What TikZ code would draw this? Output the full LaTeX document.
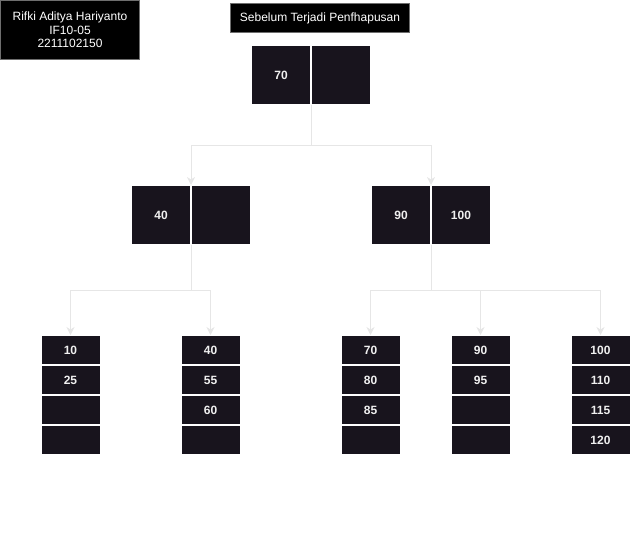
\documentclass[tikz,border=0pt]{standalone}
\usepackage{fontspec}
\setmainfont{Liberation Sans}
\usetikzlibrary{arrows.meta}
\definecolor{cellfill}{HTML}{18141D}
\definecolor{celltext}{HTML}{F0F0F0}
\definecolor{conncol}{HTML}{E6E6E6}
\definecolor{boxborder}{HTML}{6E6E6E}
\tikzset{
  headbox/.style={draw=boxborder, line width=1pt, fill=black, text=white, inner sep=0pt, align=center, font=\fontsize{12}{13.5}\selectfont},
  bigcell/.style={draw=white, line width=1pt, fill=cellfill, text=celltext, minimum width=59pt, minimum height=59pt, inner sep=0pt, font=\fontsize{12}{14}\selectfont\bfseries},
  leafcell/.style={draw=white, line width=1pt, fill=cellfill, text=celltext, minimum width=59pt, minimum height=29pt, inner sep=0pt, font=\fontsize{12}{14}\selectfont\bfseries},
  conn/.style={draw=conncol, line width=1pt, -{Stealth[length=8pt,width=8pt,inset=2.5pt]}}
}
\begin{document}
\begin{tikzpicture}[x=1pt,y=-1pt]
\useasboundingbox (0,0) rectangle (631,546);
% header boxes
\node[headbox, minimum width=139pt, minimum height=59pt] (name) at (70,30) {Rifki Aditya Hariyanto\\IF10-05\\2211102150};
\node[headbox, minimum width=179pt, minimum height=29pt] (title) at (320,18) {Sebelum Terjadi Penfhapusan};
% root
\node[bigcell] (r1) at (281,75) {70};
\node[bigcell] (r2) at (341,75) {};
% level 2
\node[bigcell] (a1) at (161,215) {40};
\node[bigcell] (a2) at (221,215) {};
\node[bigcell] (b1) at (401,215) {90};
\node[bigcell] (b2) at (461,215) {100};
% leaves
\foreach \nm/\x/\va/\vb/\vc/\vd in {p/70.5/10/25//, q/210.5/40/55/60/, s/370.5/70/80/85/, t/480.5/90/95//, u/600.5/100/110/115/120}{
  \node[leafcell] (\nm1) at (\x,350) {\va};
  \node[leafcell] (\nm2) at (\x,380) {\vb};
  \node[leafcell] (\nm3) at (\x,410) {\vc};
  \node[leafcell] (\nm4) at (\x,440) {\vd};
}
% connectors
\draw[conn] (r1.south east) -- ++(0,40) -| (a1.north east);
\draw[conn] (r1.south east) -- ++(0,40) -| (b1.north east);
\draw[conn] (a1.south east) -- ++(0,45) -| (p1.north);
\draw[conn] (a1.south east) -- ++(0,45) -| (q1.north);
\draw[conn] (b1.south east) -- ++(0,45) -| (s1.north);
\draw[conn] (b1.south east) -- ++(0,45) -| (t1.north);
\draw[conn] (b1.south east) -- ++(0,45) -| (u1.north);
\end{tikzpicture}
\end{document}
